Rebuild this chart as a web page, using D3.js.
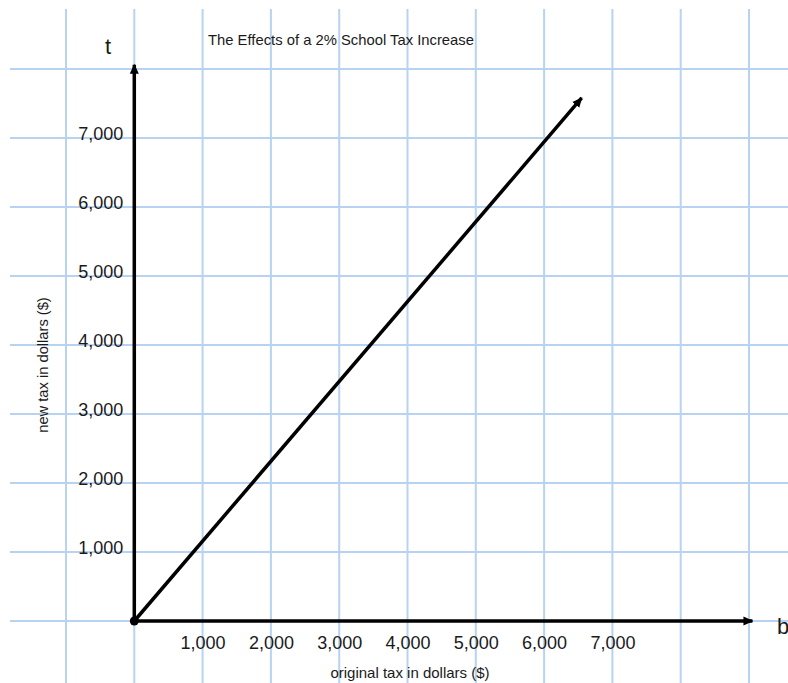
<!DOCTYPE html>
<html>
<head>
<meta charset="utf-8">
<script src="https://cdn.jsdelivr.net/npm/d3@7"></script>
<style>
  html, body { margin: 0; padding: 0; background: #fff; }
  svg { display: block; }
  text { font-family: "Liberation Sans", Arial, Helvetica, sans-serif; fill: #1a1a1a; }
</style>
</head>
<body>
<svg id="chart" width="788" height="683"></svg>
<script>
// ---- data ----
const title = "The Effects of a 2% School Tax Increase";
const xLabel = "original tax in dollars ($)";
const yLabel = "new tax in dollars ($)";
const xVarName = "b";
const yVarName = "t";
const xTicks = [1000, 2000, 3000, 4000, 5000, 6000, 7000];
const yTicks = [1000, 2000, 3000, 4000, 5000, 6000, 7000];
const xGridValues = [-1000, 0, 1000, 2000, 3000, 4000, 5000, 6000, 7000, 8000, 9000];
const yGridValues = [-1000, 0, 1000, 2000, 3000, 4000, 5000, 6000, 7000, 8000];
const originalTax = [0, 6550];
const newTax = [0, 7580];
const xAxisEnd = 9050;
const yAxisEnd = 8060;

// ---- scales ----
const svg = d3.select("#chart");
const x = d3.scaleLinear().domain([-1000, 9000]).range([66, 749]);
const y = d3.scaleLinear().domain([0, 8000]).range([621, 69]);

const gridColor = "#b8d3f2";

// grid
svg.append("g").selectAll("line").data(xGridValues).join("line")
  .attr("x1", d => x(d)).attr("x2", d => x(d))
  .attr("y1", 9).attr("y2", 683)
  .attr("stroke", gridColor).attr("stroke-width", 2);
svg.append("g").selectAll("line").data(yGridValues).join("line")
  .attr("y1", d => y(d)).attr("y2", d => y(d))
  .attr("x1", 10).attr("x2", 788)
  .attr("stroke", gridColor).attr("stroke-width", 2);

// arrow marker
const defs = svg.append("defs");
defs.append("marker")
  .attr("id", "arrow")
  .attr("markerUnits", "userSpaceOnUse")
  .attr("viewBox", "0 -5 10 10")
  .attr("refX", 9).attr("refY", 0)
  .attr("markerWidth", 10).attr("markerHeight", 10)
  .attr("orient", "auto")
  .append("path").attr("d", "M0,-4.5L10,0L0,4.5Z").attr("fill", "#000");

// axes lines
svg.append("line")
  .attr("x1", x(0)).attr("y1", y(0))
  .attr("x2", x(xAxisEnd)).attr("y2", y(0))
  .attr("stroke", "#000").attr("stroke-width", 3.5)
  .attr("marker-end", "url(#arrow)");
svg.append("line")
  .attr("x1", x(0)).attr("y1", y(0))
  .attr("x2", x(0)).attr("y2", y(yAxisEnd))
  .attr("stroke", "#000").attr("stroke-width", 3.5)
  .attr("marker-end", "url(#arrow)");

// tick labels via d3 axes
const fmt = d3.format(",");
const xAxis = svg.append("g")
  .attr("transform", `translate(0,${y(0)})`)
  .call(d3.axisBottom(x).tickValues(xTicks).tickFormat(fmt).tickSize(0).tickPadding(21));
xAxis.select(".domain").remove();
xAxis.selectAll("text").attr("font-size", 18).attr("font-family", null).attr("fill", "#1a1a1a").attr("dy", null).attr("dominant-baseline", null).attr("y", 28);

const yAxis = svg.append("g")
  .attr("transform", `translate(${x(0)},0)`)
  .call(d3.axisLeft(y).tickValues(yTicks).tickFormat(fmt).tickSize(0).tickPadding(11));
yAxis.select(".domain").remove();
yAxis.selectAll("text").attr("font-size", 18).attr("font-family", null).attr("fill", "#1a1a1a").attr("dy", "1.5");

// data line
const pts = originalTax.map((v, i) => [v, newTax[i]]);
svg.append("path")
  .datum(pts)
  .attr("d", d3.line().x(d => x(d[0])).y(d => y(d[1])))
  .attr("fill", "none").attr("stroke", "#000").attr("stroke-width", 3.5)
  .attr("marker-end", "url(#arrow)");

// origin dot
svg.append("circle").attr("cx", x(0)).attr("cy", y(0)).attr("r", 4.5).attr("fill", "#000");

// labels
svg.append("text").attr("x", 208).attr("y", 45).attr("font-size", 14.8).text(title);
svg.append("text").attr("x", 410).attr("y", 678).attr("text-anchor", "middle").attr("font-size", 15).text(xLabel);
svg.append("text").attr("transform", "translate(48,365) rotate(-90)").attr("text-anchor", "middle").attr("font-size", 14.7).text(yLabel);
svg.append("text").attr("x", 108).attr("y", 54).attr("text-anchor", "middle").attr("font-size", 22).text(yVarName);
svg.append("text").attr("x", 777).attr("y", 634).attr("font-size", 22).text(xVarName);
</script>
</body>
</html>
